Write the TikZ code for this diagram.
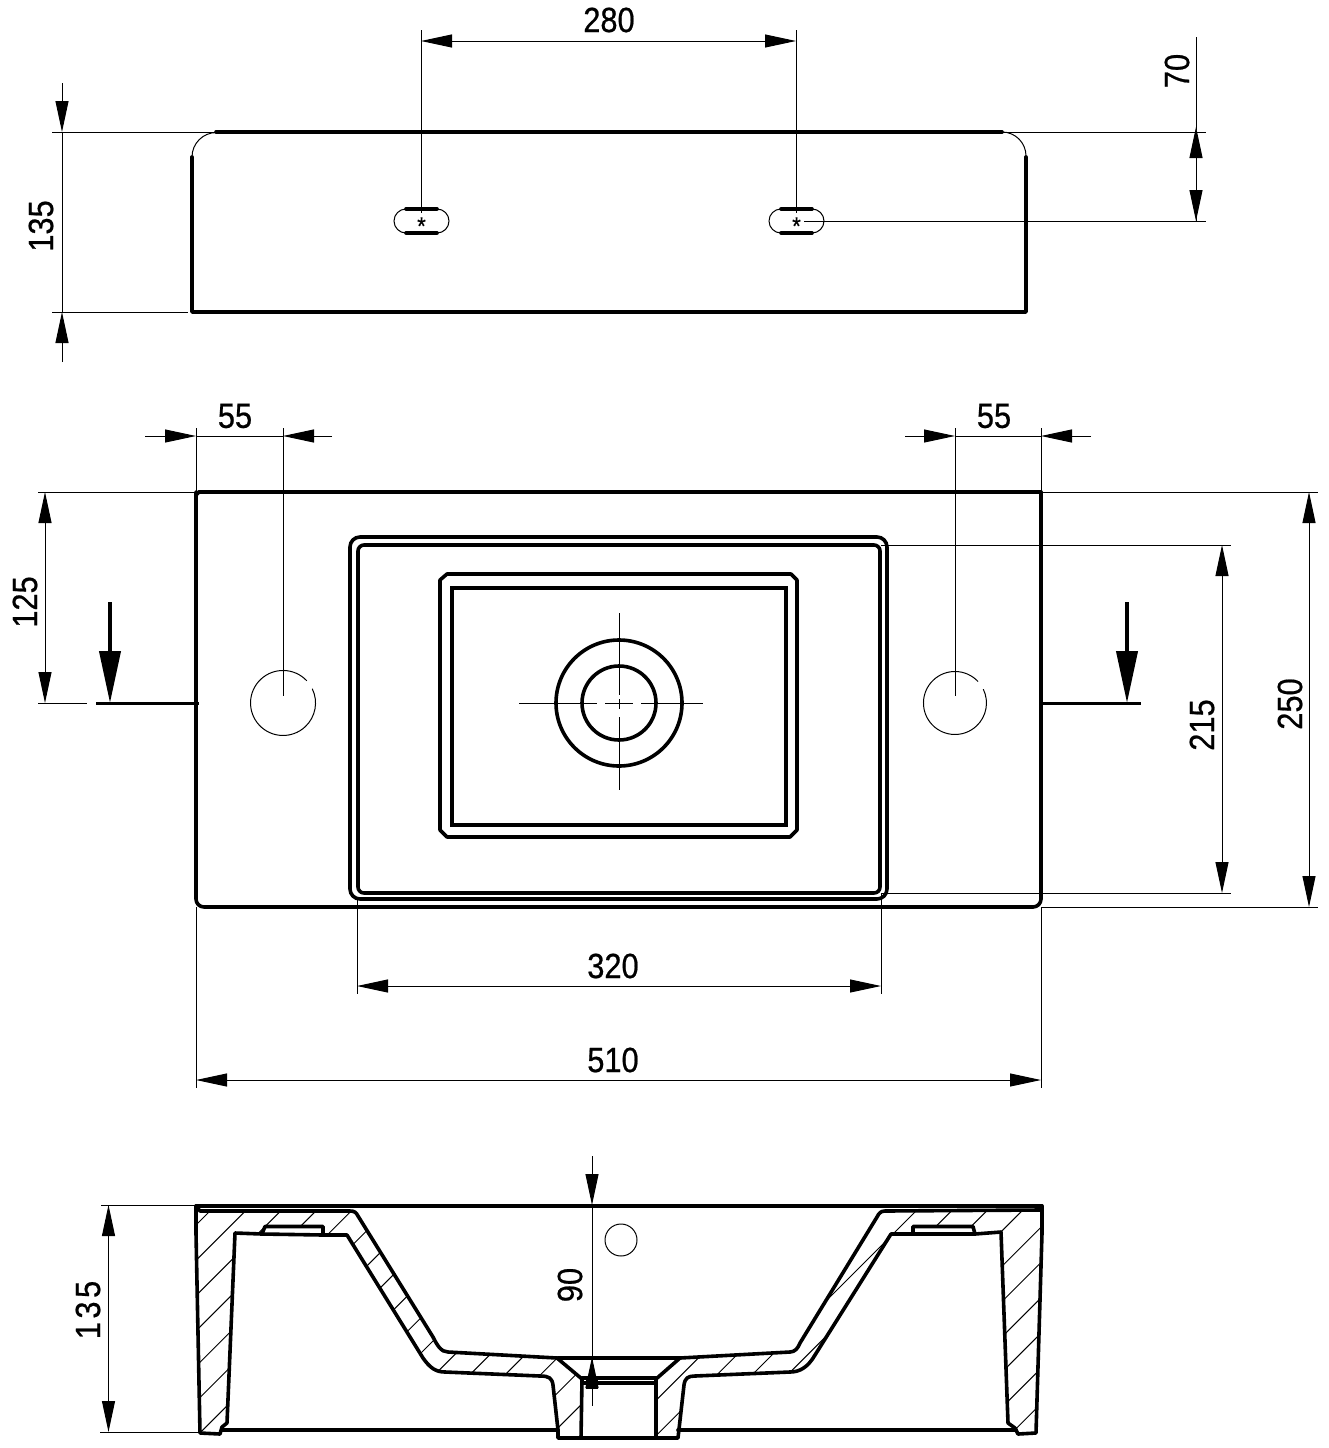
\documentclass[tikz,border=0pt]{standalone}
\usepackage{fontspec}
\setmainfont[FakeStretch=0.88,FakeBold=0.6]{Liberation Sans}
\usetikzlibrary{arrows.meta}
\tikzset{
  thinline/.style={line width=1pt,black},
  thickline/.style={line width=3.6pt,black,line cap=round,line join=round},
  dimtip/.tip={Triangle[length=31pt 0 0,width=13pt 0 0]},
  sectip/.tip={Triangle[length=52pt 0 0,width=21pt 0 0]},
  dimlabel/.style={font=\fontsize{35}{35}\selectfont,inner sep=0pt},
  dimlabelv/.style={dimlabel,rotate=90},
  hatch/.style={line width=1pt,black},
}
\newcommand{\slotview}[2]{%
  \draw[thinline] (#1-15.5,#2-12) arc[start angle=-90,end angle=-270,radius=12];
  \draw[thinline] (#1+15.5,#2-12) arc[start angle=-90,end angle=90,radius=12];
  \draw[thickline] (#1-15.5,#2-12) -- (#1+15.5,#2-12) (#1-15.5,#2+12) -- (#1+15.5,#2+12);
  \node[inner sep=0pt,font=\fontsize{25}{25}\selectfont] at (#1,#2+5) {*};
}
\def\leftbody{(196,1206) -- (196,1233) -- (200,1433) -- (220,1434) -- (222,1427) -- (227,1423)
  -- (235,1233) -- (262,1234) -- (265,1226.5) -- (323,1226.5) -- (323,1235) -- (347,1235)
  -- (423,1358) .. controls (430,1368) and (436,1372) .. (445,1372)
  -- (540,1376) .. controls (549,1376) and (552,1378) .. (553,1385)
  -- (558,1430) -- (558,1438) -- (581,1438) -- (582,1379) -- (557,1358)
  -- (448,1352) .. controls (441,1352) and (437,1345) .. (433,1337)
  -- (358,1216) .. controls (356,1212) and (354,1211) .. (350,1211) -- (200,1211) -- cycle}
\def\rightbody{(1042,1206) -- (1042,1233) -- (1036,1433) -- (1018,1434) -- (1015,1428) -- (1008,1423)
  -- (1001,1232) -- (975,1234) -- (973,1226.5) -- (913,1226.5) -- (913,1234) -- (891,1234)
  -- (815,1355) .. controls (808,1367) and (800,1372) .. (790,1372)
  -- (695,1376) .. controls (688,1376) and (685,1378) .. (684,1385)
  -- (678,1438) -- (656,1438) -- (656,1379) -- (680,1358)
  -- (790,1352) .. controls (795,1352) and (798,1348) .. (800,1343)
  -- (877,1217) .. controls (879,1213) and (881,1211) .. (885,1211) -- (1040,1210) -- cycle}
\begin{document}
\begin{tikzpicture}[x=1pt,y=-1pt]
\useasboundingbox (0,0) rectangle (1328,1448);
\fill[white] (0,0) rectangle (1328,1448);

% ---------- top view ----------
\draw[thickline] (192,157) -- (192,312) -- (1026,312) -- (1026,157);
\draw[thickline] (216,132) -- (1002,132);
\draw[thinline] (192,157) arc[start angle=180,end angle=270,radius=24.5];
\draw[thinline] (1002,132) arc[start angle=-90,end angle=0,radius=24];
\slotview{421.5}{221}
\slotview{796.5}{221}
% dim 280
\draw[thinline] (421,30) -- (421,213);
\draw[thinline] (796,30) -- (796,213);
\draw[thinline,{dimtip}-{dimtip}] (421,41) -- (796,41);
\node[dimlabel] (d280) at (609,20) {280};
% dim 70
\draw[thinline] (1002,132) -- (1206,132);
\draw[thinline] (804,221) -- (1206,221);
\draw[thinline] (1196,37) -- (1196,130);
\draw[thinline,-{dimtip}] (1196,221) -- (1196,127);
\draw[thinline,-{dimtip}] (1196,132) -- (1196,221);
\node[dimlabelv] (d70) at (1177,71) {70};
% dim 135 top
\draw[thinline] (52,132) -- (216,132);
\draw[thinline] (52,312) -- (188,312);
\draw[thinline,-{dimtip}] (62,83) -- (62,132);
\draw[thinline,-{dimtip}] (62,362) -- (62,312);
\draw[thinline] (62,132) -- (62,312);
\node[dimlabelv] (d135a) at (41,226) {135};

% ---------- plan view ----------
\draw[thickline,rounded corners=8pt] (196,492) -- (196,907) -- (1041,907) -- (1041,492);
\draw[thickline] (199,492) -- (1041,492);
\draw[thickline] (196,495) -- (199,492);
\draw[thickline,rounded corners=10pt] (350,537) rectangle (887,899);
\draw[thickline,rounded corners=6pt] (358,545) rectangle (880,893);
\draw[thickline] (447,574) -- (791,574) -- (797,580) -- (797,830) -- (790,837)
  -- (447,837) -- (440,830) -- (440,580) -- cycle;
\draw[thickline,line join=miter] (452,588) rectangle (786,825);
\draw[thickline] (619,703) circle[radius=63];
\draw[thickline] (619,703) circle[radius=37];
\draw[thinline] (519,703) -- (597,703) (605,703) -- (633,703) (641,703) -- (703,703);
\draw[thinline] (619,613) -- (619,695) (619,699) -- (619,709) (619,717) -- (619,790);
% tap holes
\draw[thinline] (306.8,680.8) arc[start angle=-43,end angle=-386,radius=32.5];
\draw[thinline] (978,681.5) arc[start angle=-43,end angle=-386,radius=31.5];
% dim 55
\draw[thinline] (196,428) -- (196,492);
\draw[thinline] (283,428) -- (283,696);
\draw[thinline] (955,428) -- (955,696);
\draw[thinline] (1041,428) -- (1041,492);
\draw[thinline] (196,436) -- (283,436);
\draw[thinline] (955,436) -- (1041,436);
\draw[thinline,-{dimtip}] (145,436) -- (196,436);
\draw[thinline,-{dimtip}] (332,436) -- (283,436);
\draw[thinline,-{dimtip}] (905,436) -- (955,436);
\draw[thinline,-{dimtip}] (1091,436) -- (1041,436);
\node[dimlabel] (d55a) at (235,416) {55};
\node[dimlabel] (d55b) at (994,416) {55};
% dim 125
\draw[thinline] (38,492) -- (196,492);
\draw[thinline] (38,703) -- (87,703);
\draw[thinline,{dimtip}-{dimtip}] (45,492) -- (45,703);
\node[dimlabelv] (d125) at (25,602) {125};
% section marks
\draw[line width=3pt] (96,703) -- (199,703);
\draw[line width=3pt] (1040,703) -- (1141,703);
\draw[line width=4pt,-{sectip}] (110,602) -- (110,703);
\draw[line width=4pt,-{sectip}] (1127,602) -- (1127,703);
% dim 215, 250
\draw[thinline] (881,545) -- (1231,545);
\draw[thinline] (881,893) -- (1231,893);
\draw[thinline,{dimtip}-{dimtip}] (1222,545) -- (1222,893);
\node[dimlabelv] (d215) at (1202,725) {215};
\draw[thinline] (1041,492) -- (1318,492);
\draw[thinline] (1041,907) -- (1318,907);
\draw[thinline,{dimtip}-{dimtip}] (1309,492) -- (1309,907);
\node[dimlabelv] (d250) at (1290,704) {250};
% dim 320, 510
\draw[thinline] (357,899) -- (357,994);
\draw[thinline] (881,893) -- (881,994);
\draw[thinline,{dimtip}-{dimtip}] (357,986) -- (881,986);
\node[dimlabel] (d320) at (613,966) {320};
\draw[thinline] (196,907) -- (196,1088);
\draw[thinline] (1041,907) -- (1041,1088);
\draw[thinline,{dimtip}-{dimtip}] (196,1080) -- (1041,1080);
\node[dimlabel] (d510) at (613,1060) {510};

% ---------- section ----------
\begin{scope}
  \clip \leftbody;
  \foreach \k in {0,...,29} {
    \pgfmathsetmacro\c{1421+35.3*\k}
    \draw[hatch] ({\c-1190},1190) -- ({\c-1450},1450);
  }
\end{scope}
\begin{scope}
  \clip \rightbody;
  \foreach \k in {0,...,29} {
    \pgfmathsetmacro\c{1421+35.3*\k}
    \draw[hatch] ({\c-1190},1190) -- ({\c-1450},1450);
  }
\end{scope}
\draw[thickline] \leftbody;
\draw[thickline] \rightbody;
\draw[thickline] (262,1234) -- (323,1235);
\draw[thickline] (913,1234) -- (975,1234);
\draw[thickline] (196,1206) -- (1042,1206);
\draw[thickline] (222,1430) -- (558,1430);
\draw[thickline] (678,1430) -- (1016,1430);
\draw[thickline] (582,1378) -- (656,1378);
\draw[thickline] (582,1383) -- (656,1383);
\draw[thickline] (558,1358) -- (680,1358);
\draw[thickline] (581,1438) -- (656,1438);
\draw[thinline] (621,1240) circle[radius=16];
% dim 90
\draw[thinline,-{dimtip}] (592,1156) -- (592,1205);
\draw[thinline] (592,1205) -- (592,1406);
\draw[line width=1pt,-{dimtip}] (592,1388) -- (592,1357);
\fill (586,1378) rectangle (598,1389);
\node[dimlabelv] (d90) at (570,1285) {90};
% dim 135 section
\draw[thinline] (101,1205) -- (196,1205);
\draw[thinline] (100,1432) -- (200,1432);
\draw[thinline,{dimtip}-{dimtip}] (108.5,1205) -- (108.5,1432);
\node[dimlabelv] (d135b) at (88,1310) {\addfontfeature{LetterSpace=10}135};
\end{tikzpicture}
\end{document}
